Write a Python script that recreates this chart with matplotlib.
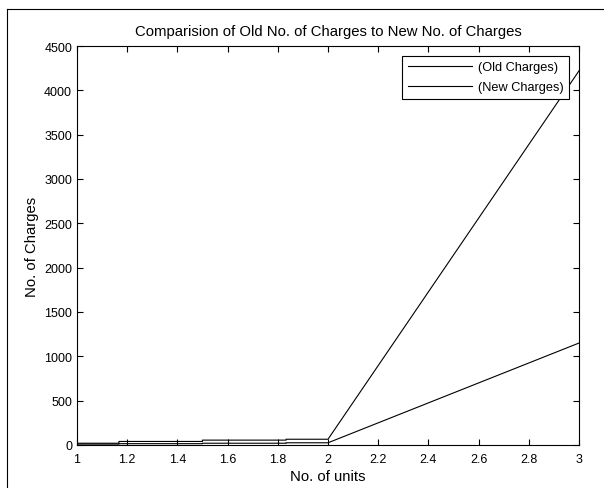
import matplotlib.pyplot as plt
from matplotlib.lines import Line2D
import numpy as np

plt.rcParams['font.family'] = 'Liberation Sans'

# data (step charges up to 2 units, then linear)
units = [1, 1.167, 1.167, 1.5, 1.5, 1.833, 1.833, 2, 3]
old_charges = [20, 20, 40, 40, 55, 55, 65, 65, 4220]
new_charges = [10, 10, 15, 15, 20, 20, 25, 25, 1150]

fig = plt.figure(figsize=(6.04, 4.89), dpi=100)
ax = fig.add_axes([77 / 604, 1 - 446 / 489, 502 / 604, 399 / 489])

ax.plot(units, old_charges, color='black', lw=0.8, label='(Old Charges)')
ax.plot(units, new_charges, color='black', lw=0.8, label='(New Charges)')

ax.set_xlim(1, 3)
ax.set_ylim(0, 4500)
ax.set_xticks(np.arange(1, 3.01, 0.2))
ax.set_xticklabels(['1', '1.2', '1.4', '1.6', '1.8', '2', '2.2', '2.4', '2.6', '2.8', '3'])
ax.set_yticks(np.arange(0, 4501, 500))
ax.tick_params(direction='in', top=True, right=True, labelsize=9, length=4, width=0.8)
ax.tick_params(axis='x', pad=6)
for s in ax.spines.values():
    s.set_linewidth(0.8)

ax.set_title('Comparision of Old No. of Charges to New No. of Charges', fontsize=10.7, pad=8)
ax.set_xlabel('No. of units', fontsize=10.7, labelpad=3)
ax.set_ylabel('No. of Charges', fontsize=10.7, labelpad=4)

leg = ax.legend(loc='upper right', fontsize=9.2, fancybox=False, framealpha=1,
                edgecolor='black', handlelength=5, handletextpad=0.5,
                borderaxespad=0.75, labelspacing=0.6, borderpad=0.45)
leg.get_frame().set_linewidth(0.8)

# outer frame of the screenshot
fig.add_artist(Line2D([7 / 604, 7 / 604], [-0.1, 1 - 10 / 489], color='black', lw=0.8))
fig.add_artist(Line2D([7 / 604, 1.1], [1 - 10 / 489, 1 - 10 / 489], color='black', lw=0.8))

fig.savefig('out.png', dpi=100)
